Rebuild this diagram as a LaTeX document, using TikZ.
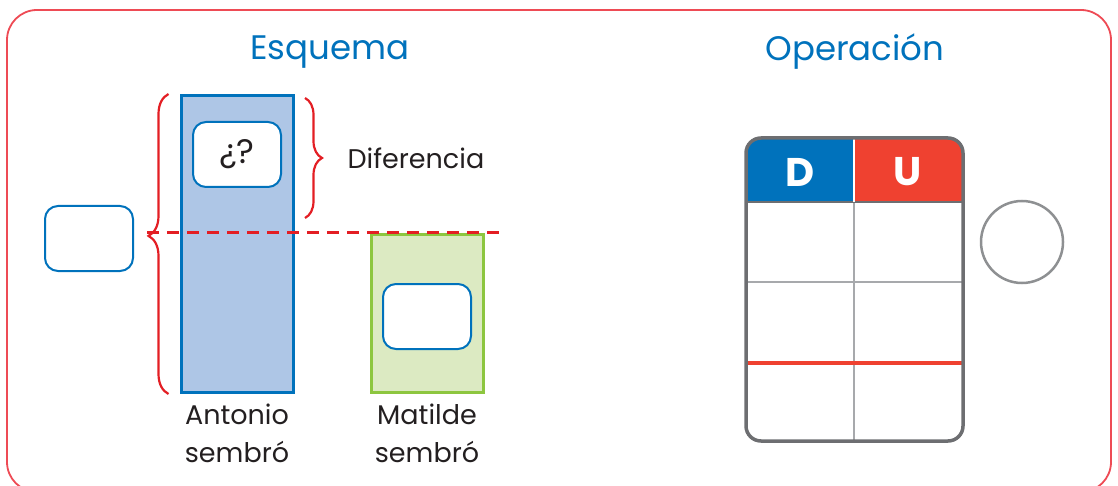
\documentclass[tikz,border=0pt]{standalone}
\usepackage{fontspec}
\setmainfont{Poppins}
\usetikzlibrary{decorations.pathreplacing,positioning}
\definecolor{esqblue}{HTML}{0072BC}
\definecolor{barblue}{HTML}{AEC6E6}
\definecolor{esqgreen}{HTML}{8DC63F}
\definecolor{bargreen}{HTML}{DCEAC2}
\definecolor{framered}{HTML}{EE4B55}
\definecolor{bracered}{HTML}{E31E24}
\definecolor{headred}{HTML}{EF4130}
\definecolor{tabgray}{HTML}{6D6E71}
\definecolor{linegray}{HTML}{A7A9AC}
\definecolor{txtdark}{HTML}{231F20}

\begin{document}
\begin{tikzpicture}[x=1pt, y=-1pt,
    bar/.style={rectangle, draw=#1, line width=3pt, minimum width=112pt,
                inner sep=0pt, anchor=north},
    ansbox/.style={rectangle, draw=esqblue, fill=white, rounded corners=13pt,
                   line width=2pt, minimum width=88pt, minimum height=65pt,
                   inner sep=0pt, font=\fontsize{34}{34}\selectfont, text=txtdark},
    title/.style={text=esqblue, font=\fontsize{34}{34}\selectfont},
    lbl/.style={font=\fontsize{27}{38}\selectfont, align=center, text=txtdark},
    curly/.style={decorate, decoration={brace, amplitude=#1, aspect=0.5},
                  draw=bracered, line width=2.2pt},
    dig/.style={text=white, font=\fontsize{40}{40}\selectfont\bfseries}
]
\useasboundingbox (0,0) rectangle (1118,486);
\draw[framered, line width=1.8pt, rounded corners=30pt] (7,10) rectangle (1111,492);

% esquema
\node[title] (esq) at (330,52) {Esquema};
\node[bar=esqblue, fill=barblue, minimum height=297pt] (antonio) at (237,94) {};
\node[bar=esqgreen, fill=bargreen, minimum height=158pt] (matilde) at (427,233) {};
\node[ansbox] (dif) at (237,154.5) {¿?};
\node[ansbox] (total) at (89,238.5) {};
\node[ansbox] (mat) at (427,316.5) {};
\node[lbl, below=6pt of antonio] (lantonio) {Antonio\\sembró};
\node[lbl, below=6pt of matilde] (lmatilde) {Matilde\\sembró};

\coordinate (dashL) at (147,233);
\coordinate (dashR) at (505,233);
\draw[bracered, line width=3pt, dash pattern=on 12pt off 8pt] (dashL) -- (dashR);

\draw[curly=20pt, decoration={aspect=0.527}] ([xshift=-11pt]antonio.south west) -- ([xshift=-11pt]antonio.north west);
\coordinate (dtop) at (305,98);
\coordinate (dbot) at (305,218);
\draw[curly=17pt] (dtop) -- (dbot);
\node[lbl, anchor=west] (diflbl) at (344,158) {Diferencia};

% operacion
\node[title] (op) at (855,52) {Operación};
\begin{scope}
  \clip[rounded corners=15pt] (746,138) rectangle (963,441);
  \fill[esqblue] (746,138) rectangle (854,202);
  \fill[headred] (854,138) rectangle (963,202);
\end{scope}
\draw[linegray, line width=2pt] (854,202) -- (854,441);
\draw[linegray, line width=2pt] (746,282) -- (963,282);
\draw[tabgray, line width=2pt] (746,202) -- (963,202);
\draw[white, line width=1.5pt] (854,138) -- (854,202);
\draw[headred, line width=4pt] (746,363) -- (963,363);
\draw[tabgray, line width=3.5pt, rounded corners=15pt] (746,138) rectangle (963,441);
\node[dig] (d) at (800,172) {D};
\node[dig] (u) at (908,172) {U};
\node[circle, draw=linegray!85!black, line width=2.5pt, minimum size=82pt, inner sep=0pt] (signo) at (1022,242) {};
\end{tikzpicture}
\end{document}
